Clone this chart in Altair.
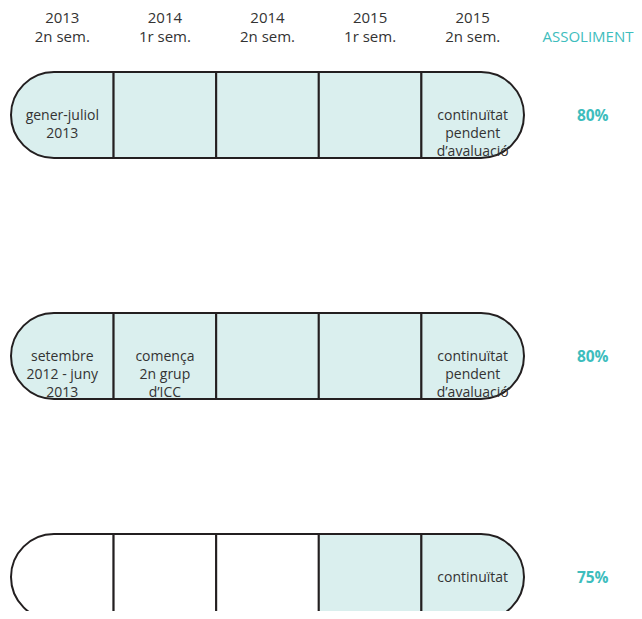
import altair as alt
import pandas as pd

# ---------------- data ----------------
years = ["2013", "2014", "2014", "2015", "2015"]
semesters = ["2n sem.", "1r sem.", "2n sem.", "1r sem.", "2n sem."]

row_texts = [
    ["gener-juliol\n2013", "", "", "", "continuïtat\npendent\nd’avaluació"],
    ["setembre\n2012 - juny\n2013", "comença\n2n grup\nd’ICC", "", "", "continuïtat\npendent\nd’avaluació"],
    ["", "", "", "", "continuïtat"],
]
row_active = [
    [1, 1, 1, 1, 1],
    [1, 1, 1, 1, 1],
    [0, 0, 0, 1, 1],
]
achievement = ["80%", "80%", "75%"]
achievement_title = "ASSOLIMENT"

# ---------------- layout / style ----------------
W, H = 626, 603
COL_W = 102.6
X0 = 3                    # left edge of the pills (px inside the plot)
ROW_TOP = [64, 305, 526]
CELL_H = 86
RADIUS = 43
LABEL_COL = 5.67          # x position (column units) of the percentage column
HEADER_Y = 15
FILL = "#daefee"
STROKE = "#231f20"
TEAL = "#3dbdbd"
TEXT = "#333333"
FONT = "Open Sans"

x_min = -X0 / COL_W
x_max = (W - X0) / COL_W

cells = []
for r, (texts, acts) in enumerate(zip(row_texts, row_active)):
    for c, (t, a) in enumerate(zip(texts, acts)):
        cells.append({
            "row": r, "col": c, "x": c, "x2": c + 1,
            "y": ROW_TOP[r], "y2": ROW_TOP[r] + CELL_H,
            "yc": ROW_TOP[r] + CELL_H / 2 + 1,
            "text": t, "active": a,
            "kind": "first" if c == 0 else ("last" if c == len(texts) - 1 else "mid"),
        })
cells = pd.DataFrame(cells)

header = pd.DataFrame({
    "x": [i + 0.5 for i in range(len(years))],
    "label": [f"{y}\n{s}" for y, s in zip(years, semesters)],
    "y": [HEADER_Y] * len(years),
})

pct = pd.DataFrame({
    "x": [LABEL_COL] * len(achievement),
    "y": [ROW_TOP[i] + CELL_H / 2 + 1 for i in range(len(achievement))],
    "label": achievement,
})
title_df = pd.DataFrame({"x": [x_max - 0.005], "y": [HEADER_Y + 19], "label": [achievement_title]})

x_scale = alt.Scale(domain=[x_min, x_max], nice=False, zero=False)
y_scale = alt.Scale(domain=[0, H], nice=False, zero=False, reverse=True)

X = lambda f: alt.X(f"{f}:Q", scale=x_scale, axis=None)
Y = lambda f: alt.Y(f"{f}:Q", scale=y_scale, axis=None)

fill_enc = alt.condition(alt.datum.active == 1, alt.value(FILL), alt.value("white"))

base = alt.Chart(cells)

first = base.transform_filter(alt.datum.kind == "first").mark_rect(
    stroke=STROKE, strokeWidth=2,
    cornerRadiusTopLeft=RADIUS, cornerRadiusBottomLeft=RADIUS,
).encode(x=X("x"), x2="x2:Q", y=Y("y"), y2="y2:Q", fill=fill_enc)

mid = base.transform_filter(alt.datum.kind == "mid").mark_rect(
    stroke=STROKE, strokeWidth=2,
).encode(x=X("x"), x2="x2:Q", y=Y("y"), y2="y2:Q", fill=fill_enc)

last = base.transform_filter(alt.datum.kind == "last").mark_rect(
    stroke=STROKE, strokeWidth=2,
    cornerRadiusTopRight=RADIUS, cornerRadiusBottomRight=RADIUS,
).encode(x=X("x"), x2="x2:Q", y=Y("y"), y2="y2:Q", fill=fill_enc)

cell_text = base.transform_calculate(xm="datum.x + 0.5").mark_text(
    font=FONT, fontSize=14, color=TEXT, lineBreak="\n", lineHeight=18,
    align="center", baseline="middle",
).encode(x=X("xm"), y=Y("yc"), text="text:N")

header_text = alt.Chart(header).mark_text(
    font=FONT, fontSize=15, color=TEXT, lineBreak="\n", lineHeight=19,
    align="center", baseline="alphabetic",
).encode(x=X("x"), y=Y("y"), text="label:N")

title_text = alt.Chart(title_df).mark_text(
    font=FONT, fontSize=15, color=TEAL, align="right", baseline="alphabetic",
).encode(x=X("x"), y=Y("y"), text="label:N")

pct_text = alt.Chart(pct).mark_text(
    font=FONT, fontSize=15.5, fontWeight="bold", color=TEAL, align="center", baseline="middle",
).encode(x=X("x"), y=Y("y"), text="label:N")

chart = alt.layer(first, mid, last, cell_text, header_text, title_text, pct_text).properties(
    width=W, height=H, padding=0, autosize=alt.AutoSizeParams(type="none"),
    background="white",
).configure_view(strokeWidth=0)

chart.save("out.html", embed_options={"renderer": "svg", "actions": False})
